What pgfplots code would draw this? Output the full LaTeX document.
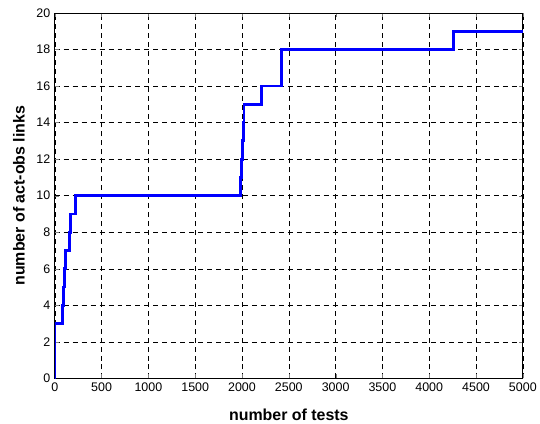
\documentclass[border=0pt]{standalone}
\usepackage{pgfplots}
\pgfplotsset{compat=1.18}
\usepackage{fontspec}
\setmainfont{Liberation Sans}
\begin{document}
\begin{tikzpicture}[x=1pt,y=1pt]
\begin{axis}[
  at={(0,0)}, anchor=south west,
  scale only axis, width=470pt, height=367pt,
  xmin=0, xmax=5000, ymin=0, ymax=20,
  xtick={0,500,...,5000}, ytick={0,2,...,20},
  /pgf/number format/assume math mode=true,
  /pgf/number format/set thousands separator={},
  scaled x ticks=false,
  tick label style={font=\fontsize{12.5}{14}\selectfont},
  xticklabel style={yshift=-1pt},
  yticklabel style={xshift=-1pt},
  tick align=inside, major tick length=4pt,
  xtick pos=both, ytick pos=both,
  grid=major, major grid style={black, dashed, line width=0.5pt, dash pattern=on 5pt off 4pt},
  axis line style={black, line width=0.7pt},
  xlabel={\bfseries number of tests},
  ylabel={\bfseries number of act-obs links},
  label style={font=\fontsize{16}{18}\selectfont},
  xlabel style={at={(axis description cs:0.5,-0.1144)}, anchor=base},
  ylabel style={at={(axis description cs:-0.0766,0.5)}, anchor=center},
]
\addplot[const plot, draw={rgb,255:red,0;green,0;blue,255}, line width=2.8pt] coordinates {
(0,0) (2,3) (85,4) (95,5) (105,6) (115,7) (160,8) (165,9) (224,10)
(1985,11) (1993,12) (2003,13) (2012,14) (2021,15) (2206,16) (2419,18) (4263,19) (5000,19)
};
\end{axis}
\path[use as bounding box] (-55pt,-44pt) rectangle (485pt,380pt);
\end{tikzpicture}
\end{document}
